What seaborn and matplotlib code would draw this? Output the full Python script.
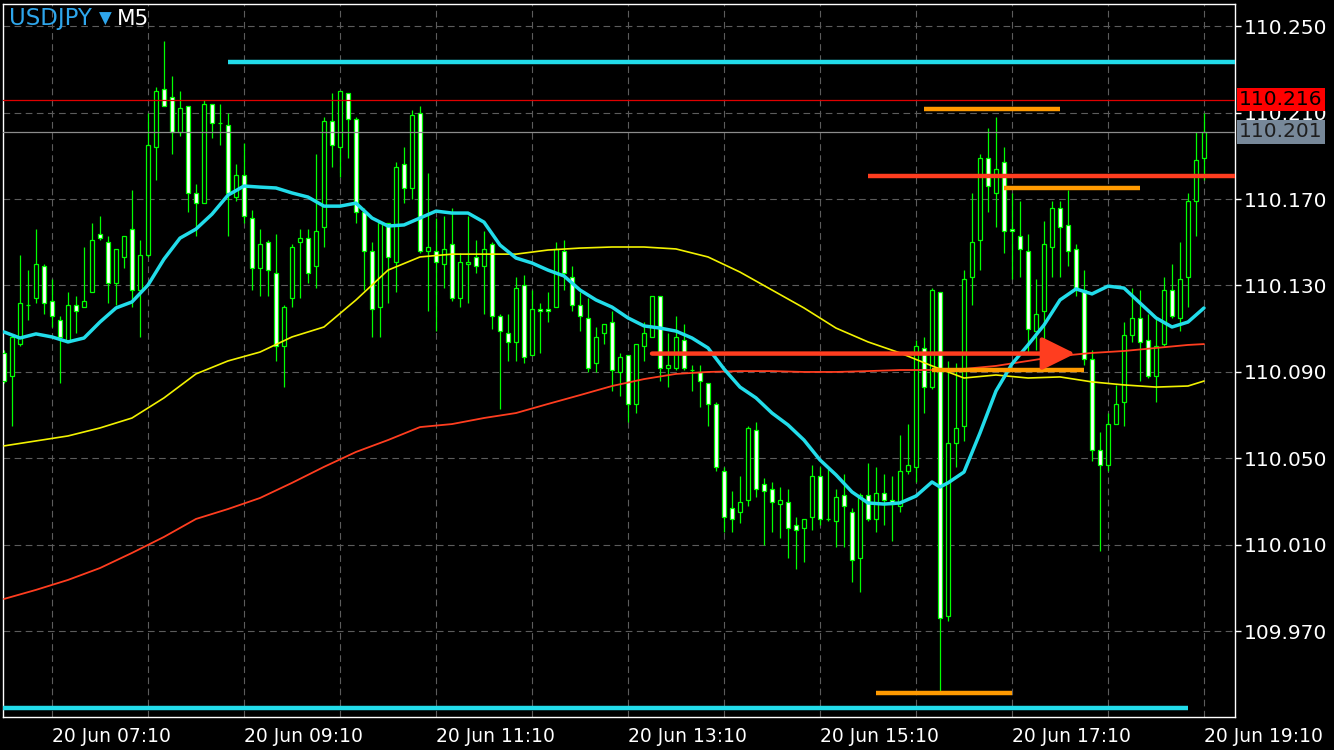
import numpy as np
import pandas as pd
import matplotlib
matplotlib.use("Agg")
import matplotlib.pyplot as plt
import matplotlib.transforms as mtransforms
import seaborn as sns

# USDJPY M5 candles, 20 Jun 06:40 -> 19:10 (151 bars)
OPEN = [
    110.099, 110.088, 110.103, 110.121, 110.124, 110.139, 110.123, 110.114, 110.104, 110.121,
    110.120, 110.127, 110.154, 110.150, 110.131, 110.143, 110.156, 110.128, 110.144, 110.194,
    110.221, 110.217, 110.201, 110.213, 110.173, 110.168, 110.214, 110.205, 110.204, 110.171,
    110.181, 110.161, 110.138, 110.150, 110.136, 110.102, 110.124, 110.150, 110.152, 110.139,
    110.157, 110.206, 110.194, 110.219, 110.207, 110.164, 110.146, 110.120, 110.159, 110.141,
    110.186, 110.175, 110.210, 110.146, 110.146, 110.140, 110.149, 110.124, 110.140, 110.143,
    110.139, 110.149, 110.116, 110.108, 110.104, 110.130, 110.098, 110.119, 110.119, 110.120,
    110.146, 110.134, 110.121, 110.115, 110.094, 110.108, 110.113, 110.090, 110.098, 110.075,
    110.102, 110.106, 110.125, 110.092, 110.092, 110.105, 110.091, 110.090, 110.085, 110.075,
    110.044, 110.027, 110.025, 110.031, 110.063, 110.038, 110.036, 110.029, 110.030, 110.019,
    110.018, 110.023, 110.042, 110.022, 110.021, 110.033, 110.025, 110.004, 110.033, 110.022,
    110.034, 110.031, 110.028, 110.044, 110.046, 110.101, 110.083, 110.127, 109.977, 110.057,
    110.065, 110.134, 110.151, 110.189, 110.173, 110.187, 110.156, 110.153, 110.146, 110.109,
    110.118, 110.148, 110.166, 110.158, 110.147, 110.128, 110.096, 110.054, 110.047, 110.066,
    110.076, 110.107, 110.115, 110.105, 110.088, 110.103, 110.128, 110.115, 110.134, 110.169,
    110.189,
]
HIGH = [
    110.100, 110.107, 110.144, 110.137, 110.156, 110.140, 110.133, 110.116, 110.127, 110.125,
    110.148, 110.159, 110.162, 110.153, 110.147, 110.153, 110.174, 110.151, 110.210, 110.222,
    110.243, 110.227, 110.220, 110.213, 110.177, 110.216, 110.214, 110.214, 110.210, 110.186,
    110.196, 110.165, 110.156, 110.151, 110.154, 110.121, 110.149, 110.156, 110.156, 110.191,
    110.208, 110.219, 110.220, 110.219, 110.208, 110.166, 110.150, 110.159, 110.159, 110.187,
    110.194, 110.211, 110.213, 110.182, 110.161, 110.162, 110.166, 110.145, 110.162, 110.151,
    110.155, 110.150, 110.117, 110.117, 110.134, 110.135, 110.128, 110.122, 110.127, 110.150,
    110.151, 110.139, 110.127, 110.124, 110.111, 110.112, 110.118, 110.099, 110.098, 110.103,
    110.113, 110.125, 110.125, 110.108, 110.116, 110.112, 110.093, 110.093, 110.085, 110.076,
    110.046, 110.035, 110.042, 110.065, 110.067, 110.041, 110.039, 110.037, 110.036, 110.023,
    110.022, 110.047, 110.046, 110.045, 110.036, 110.043, 110.027, 110.034, 110.048, 110.046,
    110.043, 110.042, 110.061, 110.066, 110.105, 110.106, 110.129, 110.127, 110.095, 110.094,
    110.137, 110.173, 110.191, 110.203, 110.208, 110.194, 110.173, 110.169, 110.154, 110.133,
    110.160, 110.169, 110.169, 110.174, 110.149, 110.137, 110.100, 110.062, 110.071, 110.084,
    110.113, 110.129, 110.128, 110.117, 110.115, 110.134, 110.140, 110.150, 110.173, 110.201,
    110.210,
]
LOW = [
    110.085, 110.065, 110.102, 110.114, 110.122, 110.117, 110.111, 110.085, 110.104, 110.108,
    110.120, 110.127, 110.151, 110.122, 110.121, 110.138, 110.120, 110.106, 110.143, 110.179,
    110.213, 110.191, 110.199, 110.164, 110.153, 110.168, 110.198, 110.195, 110.153, 110.169,
    110.159, 110.128, 110.125, 110.125, 110.095, 110.083, 110.120, 110.124, 110.131, 110.129,
    110.148, 110.185, 110.180, 110.189, 110.159, 110.128, 110.106, 110.106, 110.122, 110.127,
    110.168, 110.170, 110.145, 110.118, 110.109, 110.129, 110.123, 110.120, 110.122, 110.136,
    110.117, 110.110, 110.073, 110.095, 110.095, 110.094, 110.098, 110.099, 110.113, 110.120,
    110.128, 110.118, 110.109, 110.090, 110.090, 110.103, 110.081, 110.079, 110.067, 110.071,
    110.095, 110.106, 110.086, 110.083, 110.091, 110.091, 110.081, 110.074, 110.065, 110.044,
    110.016, 110.016, 110.020, 110.028, 110.032, 110.010, 110.016, 110.013, 110.004, 109.999,
    110.002, 110.017, 110.019, 110.021, 110.009, 110.009, 109.993, 109.988, 110.021, 110.016,
    110.019, 110.012, 110.025, 110.043, 110.039, 110.071, 110.082, 109.942, 109.975, 110.046,
    110.058, 110.121, 110.137, 110.164, 110.157, 110.145, 110.133, 110.134, 110.099, 110.100,
    110.101, 110.134, 110.134, 110.139, 110.125, 110.093, 110.049, 110.007, 110.044, 110.066,
    110.065, 110.104, 110.086, 110.087, 110.076, 110.102, 110.115, 110.109, 110.120, 110.153,
    110.179,
]
CLOSE = [
    110.086, 110.106, 110.122, 110.121, 110.140, 110.122, 110.116, 110.106, 110.121, 110.118,
    110.123, 110.151, 110.152, 110.131, 110.147, 110.153, 110.128, 110.144, 110.195, 110.220,
    110.213, 110.201, 110.212, 110.173, 110.168, 110.214, 110.205, 110.205, 110.173, 110.181,
    110.162, 110.138, 110.149, 110.137, 110.102, 110.120, 110.148, 110.152, 110.136, 110.155,
    110.206, 110.195, 110.220, 110.207, 110.164, 110.146, 110.119, 110.159, 110.143, 110.185,
    110.175, 110.209, 110.146, 110.148, 110.141, 110.147, 110.124, 110.141, 110.141, 110.139,
    110.147, 110.116, 110.109, 110.104, 110.129, 110.097, 110.119, 110.118, 110.118, 110.147,
    110.136, 110.121, 110.116, 110.092, 110.106, 110.112, 110.091, 110.097, 110.075, 110.103,
    110.108, 110.125, 110.092, 110.093, 110.106, 110.092, 110.091, 110.086, 110.075, 110.046,
    110.023, 110.022, 110.030, 110.064, 110.036, 110.035, 110.030, 110.031, 110.018, 110.017,
    110.022, 110.042, 110.022, 110.022, 110.032, 110.028, 110.003, 110.033, 110.022, 110.034,
    110.031, 110.029, 110.044, 110.047, 110.102, 110.083, 110.128, 109.976, 110.057, 110.064,
    110.133, 110.150, 110.189, 110.176, 110.184, 110.155, 110.155, 110.147, 110.110, 110.117,
    110.149, 110.166, 110.157, 110.146, 110.129, 110.096, 110.054, 110.047, 110.066, 110.075,
    110.107, 110.115, 110.104, 110.088, 110.102, 110.128, 110.116, 110.133, 110.169, 110.188,
    110.201,
]

# moving averages (bar index -> price)
FAST_IDX = list(range(0, 117, 2)) + [117] + list(range(118, 151, 2))
MA_FAST = [
    110.1085, 110.1057, 110.1076, 110.1062, 110.1039, 110.1057, 110.1131, 110.1196, 110.1224, 110.1302,
    110.1422, 110.1519, 110.1561, 110.1630, 110.1718, 110.1760, 110.1755, 110.1751, 110.1728, 110.1709,
    110.1667, 110.1667, 110.1681, 110.1612, 110.1575, 110.1580, 110.1612, 110.1644, 110.1635, 110.1635,
    110.1593, 110.1487, 110.1427, 110.1404, 110.1371, 110.1344, 110.1279, 110.1233, 110.1200, 110.1150,
    110.1113, 110.1103, 110.1089, 110.1057, 110.1011, 110.0914, 110.0830, 110.0780, 110.0710, 110.0655,
    110.0585, 110.0493, 110.0424, 110.0345, 110.0294, 110.0289, 110.0294, 110.0326, 110.0391, 110.0368,
    110.0387, 110.0437, 110.0618, 110.0812, 110.0937, 110.1025, 110.1117, 110.1233, 110.1284, 110.1261,
    110.1297, 110.1288, 110.1219, 110.1150, 110.1108, 110.1131, 110.1196,
]
SLOW_IDX = list(range(0, 149, 4)) + [150]
MA_MID = [
    110.0558, 110.0581, 110.0604, 110.0641, 110.0687, 110.0780, 110.0891, 110.0951, 110.0992, 110.1062,
    110.1108, 110.1233, 110.1371, 110.1432, 110.1445, 110.1445, 110.1445, 110.1464, 110.1473, 110.1478,
    110.1478, 110.1469, 110.1432, 110.1362, 110.1279, 110.1196, 110.1103, 110.1039, 110.0988, 110.0928,
    110.0872, 110.0886, 110.0872, 110.0877, 110.0854, 110.0840, 110.0830, 110.0835, 110.0858,
]
MA_SLOW = [
    109.9850, 109.9892, 109.9938, 109.9993, 110.0063, 110.0137, 110.0220, 110.0266, 110.0317, 110.0387,
    110.0461, 110.0530, 110.0585, 110.0645, 110.0659, 110.0687, 110.0710, 110.0752, 110.0793, 110.0835,
    110.0867, 110.0891, 110.0900, 110.0904, 110.0904, 110.0900, 110.0900, 110.0904, 110.0909, 110.0909,
    110.0914, 110.0928, 110.0951, 110.0974, 110.0988, 110.0997, 110.1011, 110.1025, 110.1029,
]

X_TICK_POS = [6, 30, 54, 78, 102, 126, 150]
X_TICK_LABELS = ["20 Jun 07:10", "20 Jun 09:10", "20 Jun 11:10", "20 Jun 13:10",
                 "20 Jun 15:10", "20 Jun 17:10", "20 Jun 19:10"]
X_MINOR_POS = [18, 42, 66, 90, 114, 138]
Y_TICKS = [109.970, 110.010, 110.050, 110.090, 110.130, 110.170, 110.210, 110.250]

ASK = 110.216
BID = 110.201

# user-drawn objects: (price, first bar, last bar); None = chart edge
CYAN_LEVELS = [(110.2334, 28, None), (109.9346, None, 148)]
ORANGE_LEVELS = [(110.2116, 115, 132), (110.1752, 125, 142), (110.0910, 116, 135), (109.9416, 109, 126)]
RED_LEVELS = [(110.1807, 108, None)]
ARROW = (110.0985, 81, 133.9)

XMIN, XMAX = -0.125, 153.875
YMIN, YMAX = 109.9304, 110.2602

GREEN = "#00ff00"
CYAN = "#22dcea"
YELLOW = "#f2f200"
RED = "#ff3d1f"
ORANGE = "#ff9a00"

sns.set_theme(style="dark", rc={"axes.facecolor": "black", "figure.facecolor": "black",
                                "axes.edgecolor": "white", "text.color": "white"})
plt.rcParams["font.family"] = ["DejaVu Sans"]

fig = plt.figure(figsize=(13.34, 7.5), dpi=100)
ax = fig.add_axes([3 / 1334, 33 / 750, 1232 / 1334, 713 / 750])
ax.set_facecolor("black")

df = pd.DataFrame({"o": OPEN, "h": HIGH, "l": LOW, "c": CLOSE})
df["i"] = np.arange(len(df))
up = df["c"] >= df["o"]

# candles
ax.vlines(df["i"], df["l"], df["h"], color=GREEN, lw=0.9, zorder=2)
ax.bar(df["i"], (df["c"] - df["o"]).abs(), bottom=np.minimum(df["o"], df["c"]), width=0.62,
       color=np.where(up, "black", "white"), edgecolor=GREEN, linewidth=0.9, zorder=3)

# moving averages
sns.lineplot(x=SLOW_IDX, y=MA_SLOW, ax=ax, color=RED, lw=1.3, zorder=4)
sns.lineplot(x=SLOW_IDX, y=MA_MID, ax=ax, color=YELLOW, lw=1.2, zorder=4)
sns.lineplot(x=FAST_IDX, y=MA_FAST, ax=ax, color=CYAN, lw=2.5, zorder=5)

# bid / ask
ax.axhline(ASK, color="#e00000", lw=0.9, zorder=4)
ax.axhline(BID, color="#8c8c8c", lw=0.9, zorder=4)


def level(price, start, end, color):
    x0 = XMIN if start is None else start
    x1 = XMAX if end is None else end
    ax.hlines(price, x0, x1, color=color, lw=3.2, zorder=6)


for p, a, b in CYAN_LEVELS:
    level(p, a, b, CYAN)
for p, a, b in ORANGE_LEVELS:
    level(p, a, b, ORANGE)
for p, a, b in RED_LEVELS:
    level(p, a, b, RED)

ap, a0, a1 = ARROW
ax.annotate("", xy=(a1, ap), xytext=(a0, ap),
            arrowprops=dict(arrowstyle="-|>,head_length=0.85,head_width=0.42", color=RED,
                            lw=3.2, mutation_scale=24, shrinkA=0, shrinkB=0), zorder=6)

ax.set_xlim(XMIN, XMAX)
ax.set_ylim(YMIN, YMAX)

# axes, ticks, grid
ax.yaxis.tick_right()
ax.set_yticks(Y_TICKS)
ax.set_yticklabels([f"{v:.3f}" for v in Y_TICKS])
ax.set_xticks(X_TICK_POS)
ax.set_xticklabels(X_TICK_LABELS)
ax.set_xticks(X_MINOR_POS, minor=True)
for lbl in ax.get_xticklabels():
    lbl.set_ha("left")
ax.tick_params(axis="y", which="major", colors="white", length=4, width=1, pad=2, labelsize=14.5)
ax.tick_params(axis="x", which="major", colors="white", length=4, width=1, pad=3, labelsize=13.5)
ax.tick_params(axis="x", which="minor", length=0)
ax.grid(True, which="both", axis="x", color="#5c5c5c", linestyle=(0, (6, 4)), lw=0.8)
ax.grid(True, which="major", axis="y", color="#5c5c5c", linestyle=(0, (6, 4)), lw=0.8)
ax.set_axisbelow(True)
for s in ax.spines.values():
    s.set_visible(True)
    s.set_color("white")
    s.set_linewidth(1.0)
ax.set_xlabel("")
ax.set_ylabel("")

# price tags (they sit over the 110.210 label, as in the terminal)
trans = mtransforms.blended_transform_factory(ax.transAxes, ax.transData)
ax.text(1.0035, ASK, "110.216", transform=trans, ha="left", va="center", fontsize=14.5,
        color="black", clip_on=False, zorder=10,
        bbox=dict(boxstyle="square,pad=0.12", fc="#ff0000", ec="none"))
ax.text(1.0035, BID, "110.201", transform=trans, ha="left", va="center", fontsize=14.5,
        color="#1e1e1e", clip_on=False, zorder=10,
        bbox=dict(boxstyle="square,pad=0.12", fc="#778899", ec="none"))

# symbol header
fig.text(9 / 1334, 1 - 19 / 750, "USDJPY", color="#2ea6ec", fontsize=16.5, va="center", ha="left")
fig.text(99 / 1334, 1 - 19 / 750, "▼", color="#2ea6ec", fontsize=12, va="center", ha="left")
fig.text(117 / 1334, 1 - 19 / 750, "M5", color="white", fontsize=15.5, va="center", ha="left")

fig.savefig("out.png", dpi=100, facecolor="black")
